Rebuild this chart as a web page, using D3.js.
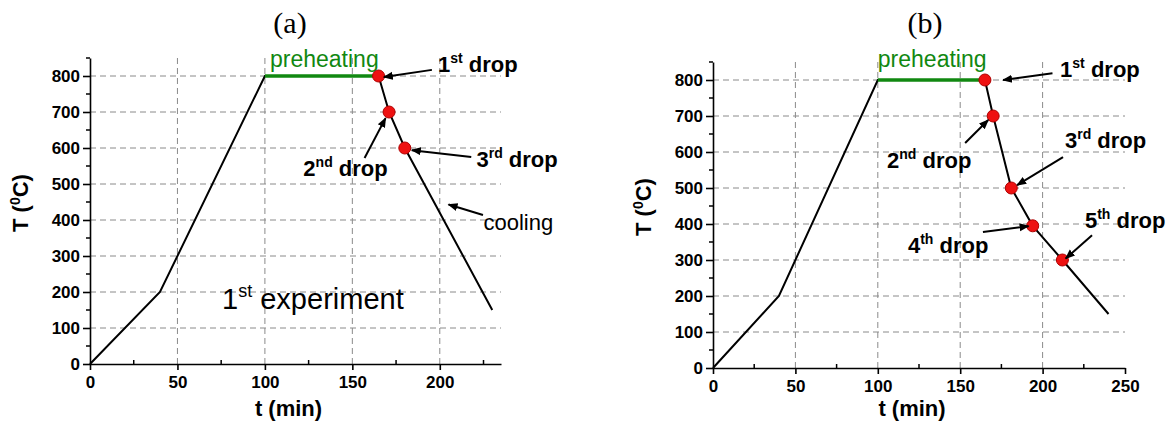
<!DOCTYPE html>
<html>
<head>
<meta charset="utf-8">
<script src="https://cdn.jsdelivr.net/npm/d3@7"></script>
<style>
  body { margin: 0; background: #fff; }
  svg { display: block; font-family: "Liberation Sans", Arial, sans-serif; }
  .grid line { stroke: #8a8a8a; stroke-width: 1; stroke-dasharray: 6,4; }
  .curve { fill: none; stroke: #000; stroke-width: 2; }
  .pre { fill: none; stroke: #118811; stroke-width: 3.5; }
  .arrow { stroke: #000; stroke-width: 2; }
</style>
</head>
<body>
<svg id="svg" width="1174" height="430"></svg>
<script>
// heating / cooling profiles, t (min) vs T (0C)
const timeA = [0, 40, 100, 165, 171, 180, 230];
const tempA = [0, 200, 800, 800, 700, 600, 150];
const timeB = [0, 40, 100, 165, 170, 181, 194, 212, 240];
const tempB = [0, 200, 800, 800, 700, 500, 395, 300, 150];

// preheating segment
const preheatT = [100, 165];
const preheatTemp = 800;

// drop points
const dropsA = [[165, 800], [171, 700], [180, 600]];
const dropsB = [[165, 800], [170, 700], [181, 500], [194, 395], [212, 300]];

const xTicksA = [0, 50, 100, 150, 200];
const xTicksB = [0, 50, 100, 150, 200, 250];
const yTicks = [0, 100, 200, 300, 400, 500, 600, 700, 800];

const svg = d3.select('#svg');

// annotation: label text, sup, label anchor (data), arrow from/to (data)
const notesA = [
  {txt: '1', sup: 'st', rest: ' drop', at: [199, 811], from: [195.5, 817], to: [168, 797]},
  {txt: '2', sup: 'nd', rest: ' drop', at: [122, 522], from: [157, 572], to: [169, 683]},
  {txt: '3', sup: 'rd', rest: ' drop', at: [221, 547], from: [218, 575], to: [184, 594]},
];
const notesB = [
  {txt: '1', sup: 'st', rest: ' drop', at: [210.6, 808], from: [206, 819], to: [176, 800]},
  {txt: '2', sup: 'nd', rest: ' drop', at: [105.6, 556], from: [153, 625], to: [167, 689]},
  {txt: '3', sup: 'rd', rest: ' drop', at: [213.6, 611], from: [212.4, 586], to: [184.5, 508]},
  {txt: '4', sup: 'th', rest: ' drop', at: [118.3, 319], from: [163.8, 378], to: [191.5, 394]},
  {txt: '5', sup: 'th', rest: ' drop', at: [225.7, 389], from: [230, 369], to: [214, 304]},
];

svg.append('defs').append('marker')
  .attr('id', 'head')
  .attr('viewBox', '0 0 10 10')
  .attr('refX', 9).attr('refY', 5)
  .attr('markerWidth', 5).attr('markerHeight', 5)
  .attr('orient', 'auto')
  .append('path').attr('d', 'M0,1 L10,5 L0,9 Z').attr('fill', '#000');

function panel(o) {
  const x = d3.scaleLinear().domain([0, o.xMax]).range([o.x0, o.x1]);
  const y = d3.scaleLinear().domain([0, 850]).range([o.y0, o.y1]);
  const g = svg.append('g');

  // grid
  const grid = g.append('g').attr('class', 'grid');
  grid.selectAll('.h').data(yTicks.slice(1)).join('line')
    .attr('x1', x(0)).attr('x2', x(o.xMax))
    .attr('y1', d => y(d)).attr('y2', d => y(d));
  grid.selectAll('.v').data(o.xTicks.filter(d => d > 0 && d < o.xMax)).join('line')
    .attr('x1', d => x(d)).attr('x2', d => x(d))
    .attr('y1', y(0)).attr('y2', y(850));

  // axes
  const xAx = g.append('g').attr('transform', `translate(0,${y(0)})`)
    .call(d3.axisBottom(x).tickValues(o.xTicks).tickSize(6).tickSizeOuter(0).tickPadding(6));
  const minorX = d3.range(25, o.xMax + 1, 50);
  g.append('g').selectAll('line').data(minorX).join('line')
    .attr('x1', d => x(d)).attr('x2', d => x(d))
    .attr('y1', y(0)).attr('y2', y(0) - 4)
    .attr('stroke', '#000').attr('stroke-width', 1.5);
  const yAx = g.append('g').attr('transform', `translate(${x(0)},0)`)
    .call(d3.axisLeft(y).tickValues(yTicks).tickSize(7).tickSizeOuter(0).tickPadding(3));
  g.append('g').selectAll('line').data(d3.range(50, 851, 100)).join('line')
    .attr('x1', x(0)).attr('x2', x(0) - 4)
    .attr('y1', d => y(d)).attr('y2', d => y(d))
    .attr('stroke', '#000').attr('stroke-width', 1.5);
  [xAx, yAx].forEach(a => {
    a.select('.domain').attr('stroke-width', 1.6);
    a.selectAll('.tick line').attr('stroke-width', 1.6);
    a.selectAll('.tick text').attr('font-size', 17).attr('font-weight', 'bold')
      .attr('font-family', '"Liberation Sans", Arial, sans-serif').attr('fill', '#000');
  });

  // axis titles
  g.append('text').attr('x', (o.x0 + o.x1) / 2 - 7).attr('y', 416)
    .attr('text-anchor', 'middle').attr('font-size', 22).attr('font-weight', 'bold')
    .text('t (min)');
  const yl = g.append('text')
    .attr('transform', `translate(${o.x0 - 62},${(o.y0 + o.y1) / 2 - 8}) rotate(-90)`)
    .attr('text-anchor', 'middle').attr('font-size', 22).attr('font-weight', 'bold');
  yl.append('tspan').text('T (');
  yl.append('tspan').attr('font-size', 14).attr('dy', -8).text('0');
  yl.append('tspan').attr('dy', 8).text('C)');

  // panel title
  svg.append('text').attr('x', o.title[0]).attr('y', 33)
    .attr('text-anchor', 'middle').attr('font-size', 30)
    .attr('font-family', '"Liberation Serif", "Times New Roman", serif')
    .text(o.label);

  // curve
  g.append('path').attr('class', 'curve')
    .attr('d', d3.line().x(d => x(d[0])).y(d => y(d[1]))(d3.zip(o.t, o.T)));
  g.append('path').attr('class', 'pre')
    .attr('d', d3.line().x(d => x(d)).y(() => y(preheatTemp))(preheatT));
  g.append('text').attr('x', x(o.preX)).attr('y', y(o.preY))
    .attr('text-anchor', 'middle').attr('font-size', 23).attr('fill', '#118811')
    .text('preheating');

  // drops
  g.selectAll('circle').data(o.drops).join('circle')
    .attr('cx', d => x(d[0])).attr('cy', d => y(d[1])).attr('r', 6)
    .attr('fill', '#ee1111').attr('stroke', '#b00000').attr('stroke-width', 1);

  // notes
  o.notes.forEach(n => {
    g.append('line').attr('class', 'arrow')
      .attr('x1', x(n.from[0])).attr('y1', y(n.from[1]))
      .attr('x2', x(n.to[0])).attr('y2', y(n.to[1]))
      .attr('marker-end', 'url(#head)');
    const t = g.append('text').attr('x', x(n.at[0])).attr('y', y(n.at[1]))
      .attr('font-size', 22).attr('font-weight', 'bold');
    t.append('tspan').text(n.txt);
    t.append('tspan').attr('font-size', 14).attr('dy', -9).text(n.sup);
    t.append('tspan').attr('dy', 9).text(n.rest);
  });
  return {g, x, y};
}

const A = panel({x0: 90, x1: 501, y0: 364, y1: 58, xMax: 235, xTicks: xTicksA,
  t: timeA, T: tempA, drops: dropsA, notes: notesA, title: [290], label: '(a)',
  preX: 134, preY: 825});
const B = panel({x0: 713, x1: 1125, y0: 368, y1: 62, xMax: 250, xTicks: xTicksB,
  t: timeB, T: tempB, drops: dropsB, notes: notesB, title: [925], label: '(b)',
  preX: 133, preY: 836});

// extra labels on panel (a)
A.g.append('line').attr('class', 'arrow')
  .attr('x1', A.x(224.7)).attr('y1', A.y(414)).attr('x2', A.x(205)).attr('y2', A.y(443))
  .attr('marker-end', 'url(#head)');
A.g.append('text').attr('x', A.x(225)).attr('y', A.y(372))
  .attr('font-size', 22).text('cooling');
const ex = A.g.append('text').attr('x', A.x(75.5)).attr('y', A.y(154))
  .attr('font-size', 29);
ex.append('tspan').text('1');
ex.append('tspan').attr('font-size', 18).attr('dy', -12).text('st');
ex.append('tspan').attr('dy', 12).text(' experiment');
</script>
</body>
</html>
